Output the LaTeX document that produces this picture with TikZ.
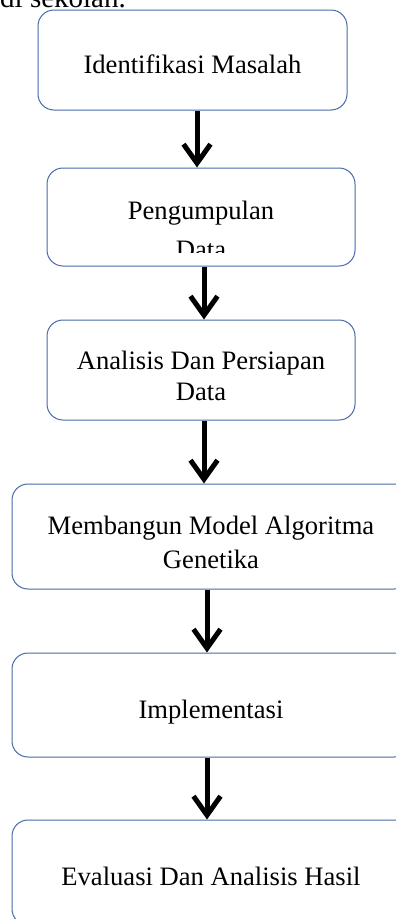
\documentclass[tikz,border=0pt]{standalone}
\usepackage{fontspec}
\setmainfont{Liberation Serif}
\usetikzlibrary{arrows.meta, positioning}
\definecolor{boxblue}{RGB}{72,104,168}

\tikzset{
  stepbox/.style={draw=boxblue, line width=1pt, rounded corners=16pt, align=center,
    inner sep=0pt, font=\fontsize{26.6}{31}\selectfont},
  oneline/.style={text height=26pt, text depth=0pt},
  flow/.style={line width=5pt, -{Straight Barb[length=19pt, width=27pt]}}
}

\begin{document}
\begin{tikzpicture}[x=1pt, y=-1pt]
    \useasboundingbox (0,0) rectangle (396,919);
    \node[anchor=base west, inner sep=0pt, font=\fontsize{29}{30}\selectfont] (ctx) at (0,7) {di sekolah.};
    % steps
    \node[stepbox, oneline, minimum width=309pt, minimum height=100pt] (s1) at (192.5,60) {Identifikasi Masalah};
    \node[stepbox, minimum width=308pt, minimum height=98pt] (s2) at (201,217) {};
    \begin{scope}
        \clip (s2.north west) rectangle ([yshift=14pt]s2.south east);
        \node[font=\fontsize{26.6}{39}\selectfont, align=center, yshift=-13pt] (s2txt) at (s2) {Pengumpulan\\Data};
    \end{scope}
    \node[stepbox, text height=61pt, text depth=0pt, minimum width=308pt, minimum height=100pt] (s3) at (201,370) {Analisis Dan Persiapan\\Data};
    \node[stepbox, text height=64pt, text depth=0pt, minimum width=398pt, minimum height=105pt, font=\fontsize{26.6}{34}\selectfont] (s4) at (211,536.5) {Membangun Model Algoritma\\Genetika};
    \node[stepbox, oneline, minimum width=398pt, minimum height=104pt] (s5) at (211,705) {Implementasi};
    \node[stepbox, oneline, minimum width=398pt, minimum height=105pt] (s6) at (211,872.5) {Evaluasi Dan Analisis Hasil};
    % arrows
    \draw[flow] ([xshift=4.5pt]s1.south) -- ([xshift=4.5pt]s1.south |- s2.north);
    \draw[flow] ([xshift=3pt]s2.south) -- ([xshift=3pt]s2.south |- s3.north);
    \draw[flow] ([xshift=3pt]s3.south) -- ([xshift=3pt]s3.south |- s4.north);
    \draw[flow] ([xshift=-4pt]s4.south) -- ([xshift=-4pt]s4.south |- s5.north);
    \draw[flow] ([xshift=-4pt]s5.south) -- ([xshift=-4pt]s5.south |- s6.north);
\end{tikzpicture}
\end{document}
